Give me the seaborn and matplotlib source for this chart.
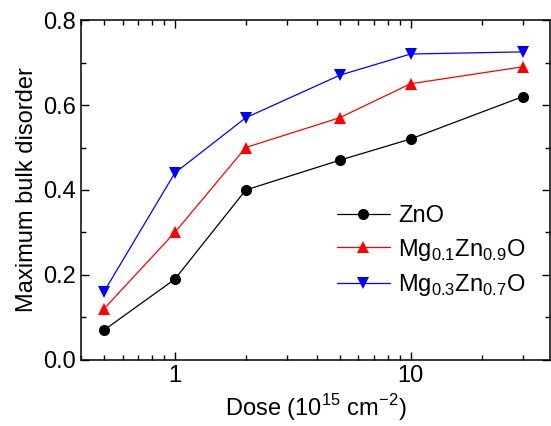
import numpy as np
import pandas as pd
import seaborn as sns
import matplotlib.pyplot as plt
from matplotlib.ticker import FixedLocator, MultipleLocator, NullFormatter

dose = [0.5, 1, 2, 5, 10, 30]
zno = [0.07, 0.19, 0.40, 0.47, 0.52, 0.62]
mg01 = [0.12, 0.30, 0.50, 0.57, 0.65, 0.69]
mg03 = [0.16, 0.44, 0.57, 0.67, 0.72, 0.725]
labels = ["ZnO", r"Mg$_{0.1}$Zn$_{0.9}$O", r"Mg$_{0.3}$Zn$_{0.7}$O"]

df = pd.DataFrame({
    "dose": dose * 3,
    "disorder": zno + mg01 + mg03,
    "sample": [labels[0]] * 6 + [labels[1]] * 6 + [labels[2]] * 6,
})

sns.set_style("ticks")
plt.rcParams['font.family'] = ['Liberation Sans', 'DejaVu Sans']
plt.rcParams['mathtext.fontset'] = 'custom'
plt.rcParams['mathtext.rm'] = 'Liberation Sans'
for k in ['text.color', 'axes.labelcolor', 'xtick.color', 'ytick.color', 'axes.edgecolor']:
    plt.rcParams[k] = 'black'

fig = plt.figure(figsize=(5.51, 4.26), dpi=100)
ax = fig.add_axes([0.147, 0.155, 0.851, 0.798])

sns.lineplot(data=df, x="dose", y="disorder", hue="sample", style="sample",
             palette=["black", "red", "blue"], markers=["o", "^", "v"],
             dashes=False, markersize=8, markeredgewidth=0, linewidth=0.9,
             ax=ax)

ax.set_xscale("log")
ax.set_xlim(0.4, 39)
ax.set_ylim(0, 0.8)
ax.set_xticks([1, 10])
ax.set_xticklabels(["1", "10"])
minors = [m * 10.0 ** e for e in (-1, 0, 1) for m in range(2, 10)]
ax.xaxis.set_minor_locator(FixedLocator(minors))
ax.xaxis.set_minor_formatter(NullFormatter())
ax.yaxis.set_major_locator(MultipleLocator(0.2))
ax.yaxis.set_minor_locator(MultipleLocator(0.1))
ax.set_yticklabels([f"{v:.1f}" for v in ax.get_yticks()])

ax.tick_params(which="both", direction="in", top=True, right=True, labelsize=17)
ax.tick_params(which="major", length=6, width=1)
ax.tick_params(which="minor", length=3.5, width=1)
for s in ax.spines.values():
    s.set_linewidth(1.1)

ax.set_xlabel(r"Dose (10$^{15}$ cm$^{-2}$)", fontsize=17)
ax.set_ylabel("Maximum bulk disorder", fontsize=17)

leg = ax.legend(loc="upper left", bbox_to_anchor=(0.545, 0.455), frameon=False,
                fontsize=17, handlelength=2.25, handletextpad=0.35,
                labelspacing=0.4, borderpad=0, borderaxespad=0)

fig.savefig("out.png", dpi=100)
